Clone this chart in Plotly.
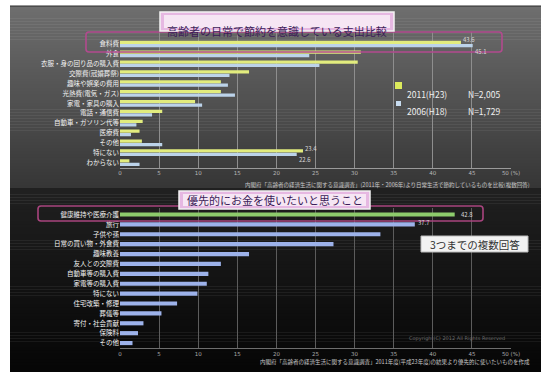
import plotly.graph_objects as go

W, H = 541, 372
JP = "Noto Sans CJK JP"

# ---- upper chart: items seniors economize on, 2011 vs 2006 (%) ----
saving_items = ["食料費", "外食", "衣服・身の回り品の購入費", "交際費(冠婚葬祭)", "趣味や娯楽の費用",
                "光熱費(電気・ガス)", "家電・家具の購入", "電話・通信費", "自動車・ガソリン代等",
                "医療費", "その他", "特にない", "わからない"]
saving_2011 = [43.6, 30.8, 30.4, 16.5, 12.9, 12.9, 9.6, 5.4, 2.9, 2.5, 2.8, 23.4, 1.2]
saving_2006 = [45.1, 24.2, 25.5, 14.0, 13.8, 14.7, 10.5, 4.1, 2.1, 1.4, 5.4, 22.6, 2.5]
series_names = ["2011(H23)", "2006(H18)"]
series_n = ["N=2,005", "N=1,729"]

# ---- lower chart: what seniors want to spend on first (%) ----
priority_items = ["健康維持や医療介護", "旅行", "子供や孫", "日常の買い物・外食費", "趣味教養",
                  "友人との交際費", "自動車等の購入費", "家電等の購入費", "特にない",
                  "住宅改築・修理", "葬儀等", "寄付・社会貢献", "保険料", "その他"]
priority_vals = [42.8, 37.7, 33.3, 27.3, 16.5, 12.9, 11.3, 11.1, 9.9, 7.3, 5.3, 3.0, 2.3, 1.6]

tick_vals = [0, 5, 10, 15, 20, 25, 30, 35, 40, 45, 50]
tick_text = ["0", "5", "10", "15", "20", "25", "30", "35", "40", "45", "50 (%)"]


def px(x):
    return x / W


def py(y):
    return 1 - y / H


def hexmix(c1, c2, t):
    a = [int(c1[i:i + 2], 16) for i in (1, 3, 5)]
    b = [int(c2[i:i + 2], 16) for i in (1, 3, 5)]
    return "#" + "".join(f"{round(a[k] + (b[k] - a[k]) * t):02x}" for k in range(3))


def rounded(x0, y0, x1, y1, r):
    rx, ry = r / W, r / H
    X0, X1, Y0, Y1 = px(x0), px(x1), py(y1), py(y0)
    return (f"M {X0 + rx},{Y0} L {X1 - rx},{Y0} Q {X1},{Y0} {X1},{Y0 + ry} "
            f"L {X1},{Y1 - ry} Q {X1},{Y1} {X1 - rx},{Y1} L {X0 + rx},{Y1} "
            f"Q {X0},{Y1} {X0},{Y1 - ry} L {X0},{Y0 + ry} Q {X0},{Y0} {X0 + rx},{Y0} Z")


fig = go.Figure()

fig.add_trace(go.Bar(y=saving_items, x=saving_2011, orientation="h", name=series_names[0],
                     marker=dict(color="#e2ec7e", line=dict(width=0)),
                     xaxis="x", yaxis="y", showlegend=False))
fig.add_trace(go.Bar(y=saving_items, x=saving_2006, orientation="h", name=series_names[1],
                     marker=dict(color="#bcd3ea", line=dict(width=0)),
                     xaxis="x", yaxis="y", showlegend=False))

bar_cols = ["#8dcc6c"] + ["#9db2ea"] * (len(priority_vals) - 1)
fig.add_trace(go.Bar(y=priority_items, x=priority_vals, orientation="h", width=0.42,
                     marker=dict(color=bar_cols, line=dict(width=0)),
                     xaxis="x2", yaxis="y2", showlegend=False))

shapes = []
# slide background: grey gradient above, near-black below
n = 60
for i in range(n):
    y0 = 6 + (188 - 6) * i / n
    y1 = 6 + (188 - 6) * (i + 1) / n + 0.5
    shapes.append(dict(type="rect", xref="paper", yref="paper", x0=px(10), x1=1,
                       y0=py(y1), y1=py(y0), line=dict(width=0), layer="below",
                       fillcolor=hexmix("#6e6e6e", "#363636", i / (n - 1))))
for i in range(n):
    y0 = 188 + (372 - 188) * i / n
    y1 = 188 + (372 - 188) * (i + 1) / n + 0.5
    shapes.append(dict(type="rect", xref="paper", yref="paper", x0=px(10), x1=1,
                       y0=py(min(y1, 372)), y1=py(y0), line=dict(width=0), layer="below",
                       fillcolor=hexmix("#202020", "#060606", i / (n - 1))))
shapes.append(dict(type="line", xref="paper", yref="paper", x0=px(10), x1=1, y0=py(6), y1=py(6),
                   line=dict(color="#2a2a2a", width=1)))

# highlight frames around the top rows
shapes.append(dict(type="path", xref="paper", yref="paper", path=rounded(86, 32, 502, 52, 3),
                   line=dict(color="#b24a8e", width=1.6), fillcolor="rgba(0,0,0,0)"))
shapes.append(dict(type="path", xref="paper", yref="paper", path=rounded(38, 206, 483, 221, 3),
                   line=dict(color="#a8447e", width=1.6), fillcolor="rgba(0,0,0,0)"))

# title plates
for (x0, y0, x1, y1) in [(160, 12, 394, 31), (179, 191, 370, 209)]:
    shapes.append(dict(type="rect", xref="paper", yref="paper", x0=px(x0), x1=px(x1),
                       y0=py(y1), y1=py(y0), line=dict(color="#f4f4f4", width=1.5),
                       fillcolor="#e6b8e2"))
    shapes.append(dict(type="rect", xref="paper", yref="paper", x0=px(x0 + 4), x1=px(x1 - 4),
                       y0=py(y1 - 3), y1=py(y0 + 3), line=dict(width=0),
                       fillcolor="#f6e6f4"))
# note plate
shapes.append(dict(type="rect", xref="paper", yref="paper", x0=px(421), x1=px(528),
                   y0=py(252), y1=py(236), line=dict(color="#bbbbbb", width=1),
                   fillcolor="#f2f2f2"))
# legend swatches
shapes.append(dict(type="rect", xref="paper", yref="paper", x0=px(395), x1=px(402),
                   y0=py(89), y1=py(82), line=dict(width=0), fillcolor="#dcea5c"))
shapes.append(dict(type="rect", xref="paper", yref="paper", x0=px(396), x1=px(401),
                   y0=py(106), y1=py(101), line=dict(width=0), fillcolor="#c8dcf0"))

ann = []
ann.append(dict(text="高齢者の日常で節約を意識している支出比較", xref="paper", yref="paper",
                x=px(277), y=py(21.5), xanchor="center", showarrow=False,
                font=dict(family=JP, size=11, color="#3c1c58")))
ann.append(dict(text="優先的にお金を使いたいと思うこと", xref="paper", yref="paper",
                x=px(274.5), y=py(200), xanchor="center", showarrow=False,
                font=dict(family=JP, size=11, color="#3c1c58")))
ann.append(dict(text="3つまでの複数回答", xref="paper", yref="paper",
                x=px(474.5), y=py(244), xanchor="center", showarrow=False,
                font=dict(family=JP, size=10.5, color="#333333")))
for i, yy in enumerate([85.5, 103.5]):
    ann.append(dict(text=series_names[i], xref="paper", yref="paper", x=px(405), y=py(yy),
                    xanchor="left", showarrow=False,
                    font=dict(family=JP, size=8.5, color="#f0f0f0")))
    ann.append(dict(text=series_n[i], xref="paper", yref="paper", x=px(466), y=py(yy),
                    xanchor="left", showarrow=False,
                    font=dict(family=JP, size=8.5, color="#f0f0f0")))

# value labels on selected bars
lab_font = dict(family=JP, size=6, color="#d8d8d8")
for idx in (0, 11):
    ann.append(dict(text=f"{saving_2011[idx]:.1f}", xref="x", yref="y", x=saving_2011[idx],
                    y=saving_items[idx], xanchor="left", yanchor="bottom", xshift=1, yshift=-1,
                    showarrow=False, font=lab_font, borderpad=0))
    ann.append(dict(text=f"{saving_2006[idx]:.1f}", xref="x", yref="y", x=saving_2006[idx],
                    y=saving_items[idx], xanchor="left", yanchor="top", xshift=1, yshift=-1.5,
                    showarrow=False, font=lab_font, borderpad=0))
ann.append(dict(text=f"{priority_vals[0]:.1f}", xref="x2", yref="y2", x=priority_vals[0],
                y=priority_items[0], xanchor="left", xshift=4, showarrow=False, font=lab_font))
ann.append(dict(text=f"{priority_vals[1]:.1f}", xref="x2", yref="y2", x=priority_vals[1],
                y=priority_items[1], xanchor="left", xshift=1, yshift=2, showarrow=False,
                font=lab_font))

# source captions
cap_font = dict(family=JP, size=5.5, color="#c8c8c8")
ann.append(dict(text="内閣府「高齢者の経済生活に関する意識調査」(2011年・2006年)より日常生活で節約しているものを比較(複数回答)",
                xref="paper", yref="paper", x=px(532), y=py(184.5), xanchor="right",
                showarrow=False, font=cap_font))
ann.append(dict(text="内閣府「高齢者の経済生活に関する意識調査」2011年度(平成23年度)の結果より優先的に使いたいものを作成",
                xref="paper", yref="paper", x=px(532), y=py(367.5), xanchor="right",
                showarrow=False, font=cap_font))
ann.append(dict(text="Copyright(C) 2012 All Rights Reserved", xref="paper", yref="paper",
                x=px(507), y=py(344), xanchor="right", showarrow=False,
                font=dict(family="DejaVu Sans", size=5, color="#6a6a6a")))

x_dom = [px(120), px(511)]
fig.update_layout(
    width=W, height=H,
    margin=dict(l=0, r=0, t=0, b=0),
    paper_bgcolor="#ffffff", plot_bgcolor="rgba(0,0,0,0)",
    barmode="group", bargap=0.3, bargroupgap=0.06,
    shapes=shapes, annotations=ann,
    font=dict(family=JP),
    xaxis=dict(domain=x_dom, range=[0, 50], tickvals=tick_vals, ticktext=tick_text,
               anchor="y", showgrid=True, gridcolor="#8e8e8e", gridwidth=1, zeroline=False,
               showline=True, linecolor="#9a9a9a", linewidth=1,
               tickfont=dict(family="DejaVu Sans", size=5.5, color="#b8b8b8"), ticks="",
               automargin=False),
    yaxis=dict(domain=[py(167.5), py(31.5)], anchor="x", type="category",
               categoryorder="array", categoryarray=saving_items, autorange="reversed",
               showgrid=False, zeroline=False, showline=False, ticks="",
               tickfont=dict(family=JP, size=6.5, color="#f2f2f2"), automargin=False),
    xaxis2=dict(domain=x_dom, range=[0, 50], tickvals=tick_vals, ticktext=tick_text,
                anchor="y2", showgrid=True, gridcolor="#5c5c5c", gridwidth=1, zeroline=False,
                showline=True, linecolor="#6e6e6e", linewidth=1,
                tickfont=dict(family="DejaVu Sans", size=5.5, color="#a8a8a8"), ticks="",
                automargin=False),
    yaxis2=dict(domain=[py(348), py(208)], anchor="x2", type="category",
                categoryorder="array", categoryarray=priority_items, autorange="reversed",
                showgrid=False, zeroline=False, showline=False, ticks="",
                tickfont=dict(family=JP, size=6.5, color="#f2f2f2"), automargin=False),
)

fig.write_html("out.html")
